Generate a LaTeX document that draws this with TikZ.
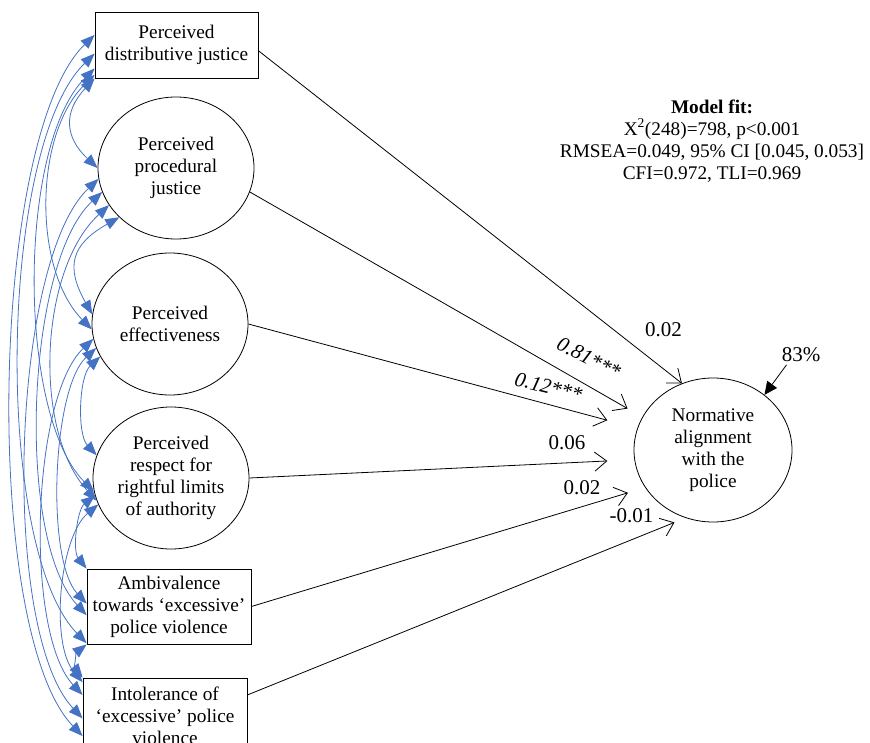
\documentclass[tikz,border=0pt]{standalone}
\usepackage{fontspec}
\setmainfont{Liberation Serif}
\usetikzlibrary{arrows.meta, shapes.geometric}
\definecolor{CovBlue}{RGB}{68,114,196}

\begin{document}
\begin{tikzpicture}[x=1pt, y=-1pt,
  obs/.style={draw, rectangle, inner sep=0pt, align=center,
              font=\fontsize{19.3}{22}\selectfont, line width=0.8pt},
  lat/.style={draw, ellipse, minimum width=156pt, minimum height=142pt,
              inner sep=0pt, align=center,
              font=\fontsize{19.3}{22}\selectfont, line width=0.8pt},
  regarr/.style={-{Straight Barb[length=12pt,width=19pt]}, line width=0.8pt},
  errarr/.style={-{Triangle[length=13pt,width=12pt]}, line width=0.8pt},
  cov/.style={{Triangle[length=14pt,width=11pt]}-{Triangle[length=14pt,width=11pt]},
              draw=CovBlue, line width=0.8pt, bend right=45},
  lbl/.style={font=\fontsize{21}{24}\selectfont, inner sep=0pt}
]
\useasboundingbox (0,0) rectangle (870,743);

% predictors
\node[obs, minimum width=163pt, minimum height=66pt] (pdj) at (176.5,45)
  {Perceived\\distributive justice};
\node[lat] (ppj) at (176,168) {Perceived\\procedural\\justice};
\node[lat] (pe)  at (170,324) {Perceived\\effectiveness};
\node[lat] (pr)  at (171,478) {Perceived\\respect for\\rightful limits\\of authority};
\node[obs, minimum width=164pt, minimum height=75pt] (amb) at (169,606.5)
  {Ambivalence\\towards ‘excessive’\\police violence};
\node[obs, minimum width=164pt, minimum height=75pt] (int) at (165,715.5)
  {Intolerance of\\‘excessive’ police\\violence};

% outcome
\node[lat, minimum width=158pt, minimum height=144pt] (nap) at (713,450)
  {Normative\\alignment\\with the\\police};

\node[align=center, inner sep=0pt, font=\fontsize{19.3}{22}\selectfont] (fit) at (712,141)
  {\textbf{Model fit:}\\X\textsuperscript{2}(248)=798, p<0.001\\
   RMSEA=0.049, 95\% CI [0.045, 0.053]\\CFI=0.972, TLI=0.969};

% paths
\draw[regarr] (pdj.-4) -- (nap.115);
\draw[regarr, shorten >=17pt] (ppj.342) -- (nap.155);
\draw[regarr, shorten >=31pt] (pe.east) -- (nap.164);
\draw[regarr, shorten >=27pt] (pr.east) -- (nap.187);
\draw[regarr, shorten >=18pt] (amb.east) -- (nap.209);
\draw[regarr, shorten >=12pt] (int.14) -- (nap.248);

\node[lbl] (b1) at (663.5,330) {0.02};
\node[lbl, rotate=-27] (b2) at (589,358) {\itshape 0.81***};
\node[lbl, rotate=-14] (b3) at (548.5,387) {\itshape 0.12***};
\node[lbl] (b4) at (567,443) {0.06};
\node[lbl] (b5) at (582,488) {0.02};
\node[lbl] (b6) at (631.5,515.5) {-0.01};

\node[lbl] (r2) at (801,354.5) {83\%};
\draw[errarr] ([shift={(5,3)}]r2.south west) -- (nap.47);

% covariances
\draw[cov, looseness=0.53] (pdj.173) to (int.194);
\draw[cov, looseness=0.58] (pdj.186) to (amb.204);
\draw[cov, looseness=0.66] (pdj.196) to (pr.190);
\draw[cov, looseness=0.85] (pdj.200) to (pe.184);
\draw[cov, looseness=1.3] (pdj.south west) to (ppj.west);
\draw[cov, looseness=0.57] (ppj.188) to (int.182);
\draw[cov, looseness=0.63] (ppj.198) to (amb.186);
\draw[cov, looseness=0.82] (ppj.209) to (pr.197);
\draw[cov, looseness=1.4] (ppj.221) to (pe.173);
\draw[cov, looseness=0.61] (pe.191) to (int.166);
\draw[cov, looseness=0.6] (pe.198) to (amb.178);
\draw[cov, looseness=0.75] (pe.205) to (pr.163);
\draw[cov, looseness=0.73] (pr.200) to (int.158);
\draw[cov, looseness=0.8] (pr.193) to (amb.north west);
\draw[cov, looseness=1] (amb.south west) to (int.north west);
\end{tikzpicture}
\end{document}
